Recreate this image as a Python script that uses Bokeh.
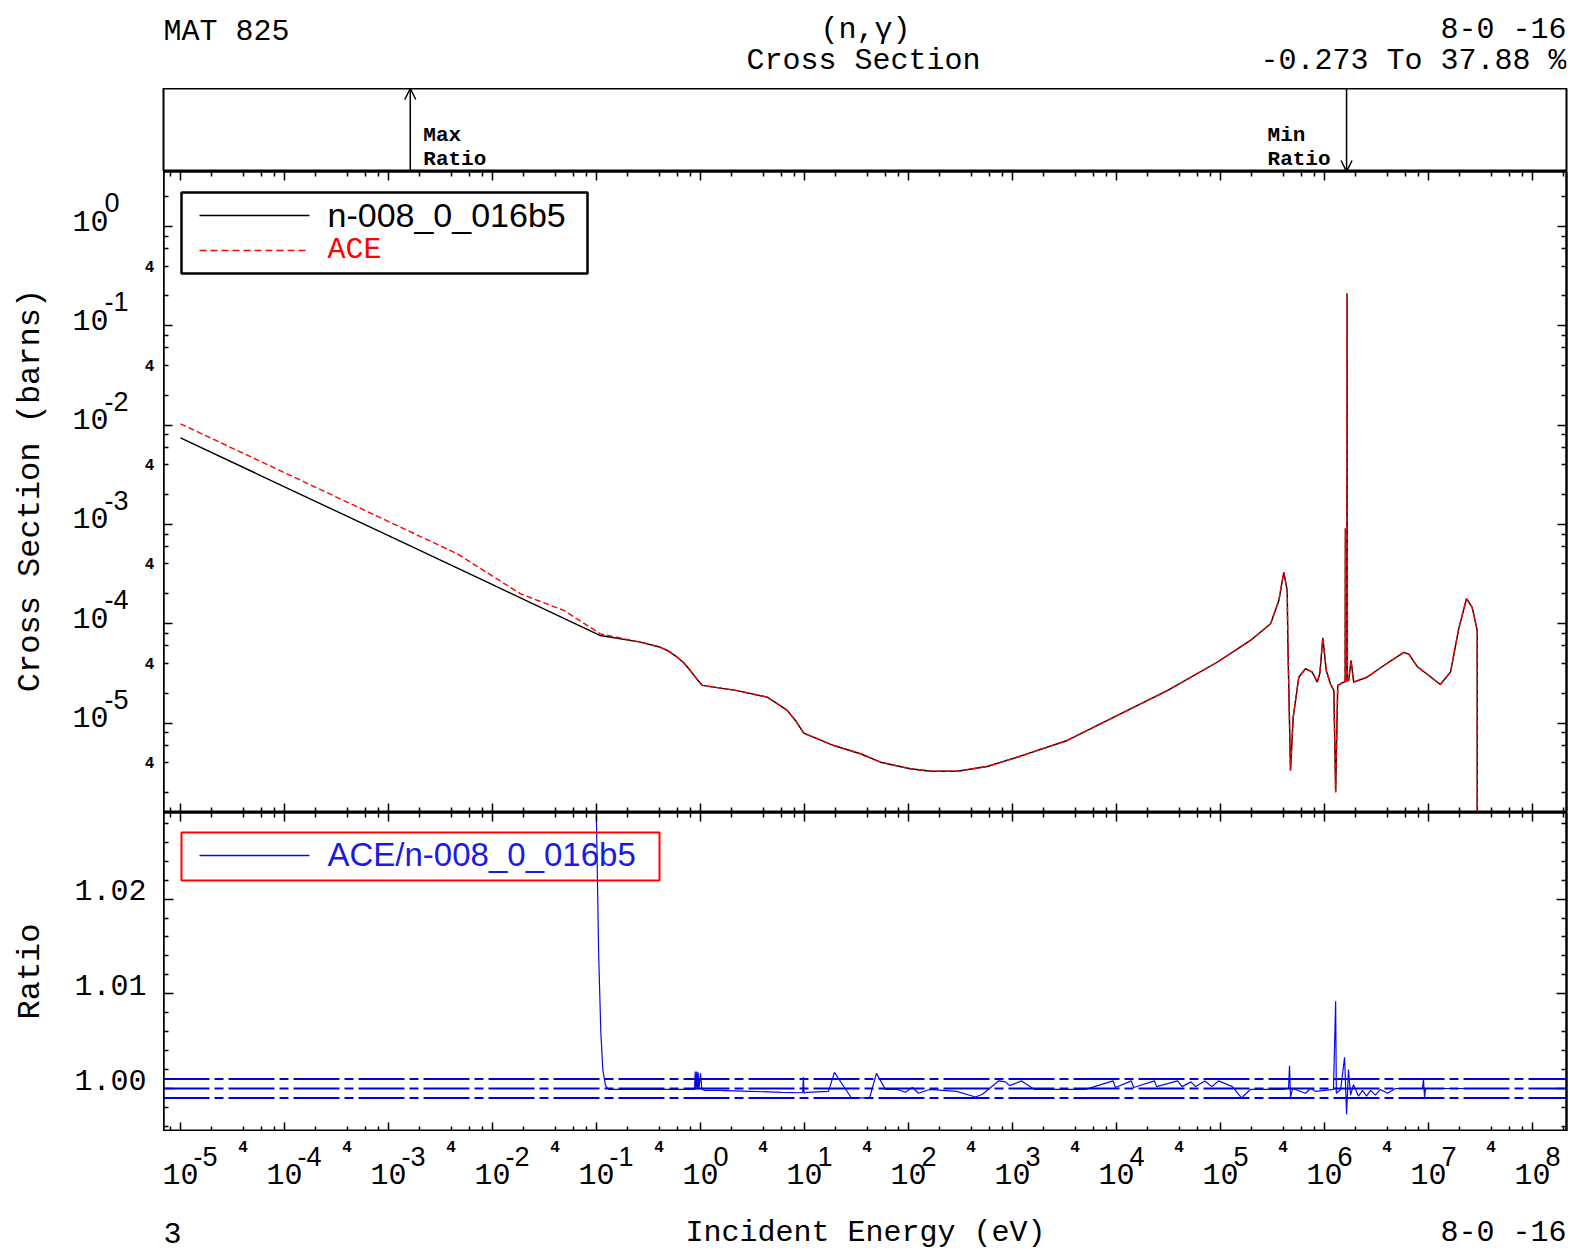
import math
from bokeh.plotting import figure
from bokeh.layouts import column, row
from bokeh.core.properties import value
from bokeh.models import (LogAxis, LinearAxis, FixedTicker, Label, Span, Arrow,
                          OpenHead, BoxAnnotation, Range1d, CustomJSTickFormatter)
from bokeh.embed import file_html
from bokeh.resources import INLINE

# ---------------- data ----------------
# 1/v region (eV, barns)
endf_low_energy = [1e-5, 1e-4, 1e-3, 1e-2, 0.109]
endf_low_xs = [7.45e-3, 2.39e-3, 7.69e-4, 2.47e-4, 7.60e-5]
ace_low_energy = [1e-5, 4.58e-3, 1.86e-2, 4.85e-2, 0.109]
ace_low_xs = [1.03e-2, 5.06e-4, 2.00e-4, 1.36e-4, 7.91e-5]

# region where both evaluations coincide (eV, barns)
common_energy = [0.265, 0.412, 0.492, 0.597, 0.686, 0.773, 0.913, 1.04, 2.25, 4.38,
                 5.46, 6.82, 8.18, 9.84, 19.1,
                 34.5, 53.8, 104, 163, 294, 571, 1190, 3360, 1.02e4, 3.08e4,
                 9.29e4, 1.94e5, 3.03e5, 3.64e5, 4.06e5, 4.38e5, 4.44e5, 4.71e5, 5.00e5, 5.66e5,
                 6.56e5, 7.62e5, 8.51e5, 9.02e5, 9.64e5, 1.04e6, 1.14e6, 1.23e6, 1.28e6, 1.34e6,
                 1.53e6, 1.58e6, 1.59e6, 1.60e6, 1.64e6, 1.65e6, 1.66e6, 1.71e6, 1.80e6, 1.91e6,
                 2.56e6, 3.72e6, 5.79e6, 6.47e6, 7.78e6, 1.30e7, 1.63e7, 1.95e7, 2.32e7, 2.63e7,
                 2.94e7, 2.94e7]
common_xs = [6.52e-5, 5.79e-5, 5.30e-5, 4.60e-5, 4.07e-5, 3.52e-5, 2.81e-5, 2.39e-5, 2.12e-5, 1.82e-5,
             1.57e-5, 1.34e-5, 1.06e-5, 7.89e-6, 5.93e-6,
             4.90e-6, 4.03e-6, 3.46e-6, 3.27e-6, 3.27e-6, 3.65e-6, 4.63e-6, 6.67e-6, 1.19e-5, 2.12e-5,
             4.09e-5, 6.78e-5, 9.98e-5, 1.71e-4, 3.30e-4, 2.16e-4, 6.78e-5, 3.33e-6, 1.14e-5, 2.89e-5,
             3.52e-5, 3.25e-5, 2.58e-5, 3.15e-5, 7.21e-5, 3.38e-5, 2.48e-5, 2.12e-5, 2.01e-6, 2.39e-5,
             2.58e-5, 2.60e-5, 9.10e-4, 2.62e-5, 2.64e-5, 0.211, 2.66e-5, 2.68e-5, 4.26e-5, 2.58e-5,
             2.89e-5, 3.79e-5, 5.15e-5, 4.94e-5, 3.71e-5, 2.44e-5, 3.27e-5, 8.83e-5, 1.79e-4, 1.46e-4,
             8.55e-5, 1.0e-7]

# ratio ACE / n-008_0_016b5
ratio_energy = [1e-5, 1.62e-3, 4.58e-3, 1.86e-2, 4.85e-2, 0.0975, 0.100, 0.105, 0.110, 0.115,
                0.122, 0.130, 0.875, 0.89, 0.905, 0.92, 0.935, 0.95, 0.965, 1.0,
                1.03, 1.1, 1.5, 3.0, 6.0, 9.3, 9.6, 9.75, 9.9, 10.5,
                17.0, 19.4, 28.3, 42.2, 49.2, 60.1, 78.3, 93.5, 109, 125,
                159, 290, 441, 515, 733, 857, 936, 1222, 1630, 5040,
                9270, 9770, 13900, 14600, 23200, 24300, 38600, 42700, 52100, 57500,
                70800, 82400, 95700, 1.30e5, 1.59e5, 1.94e5, 3.94e5, 4.51e5, 4.61e5, 4.71e5,
                4.92e5, 6.56e5, 7.33e5, 8.19e5, 1.22e6, 1.28e6, 1.30e6, 1.43e6, 1.56e6, 1.63e6,
                1.70e6, 1.78e6, 1.90e6, 2.12e6, 2.32e6, 2.53e6, 2.77e6, 3.09e6, 3.45e6, 4.03e6,
                4.82e6, 8.75e6, 8.95e6, 9.16e6, 9.36e6, 2.94e7]
ratio_value = [1.375, 1.3788, 1.370, 1.10, 1.19, 1.040, 1.028, 1.014, 1.006, 1.002,
               1.0003, 0.9999, 0.9999, 1.0018, 0.9999, 1.0018, 1.0000, 1.0017, 0.9999, 1.0016,
               0.9999, 0.9998, 0.9998, 0.9997, 0.99960, 0.99955, 0.99955, 1.0012, 0.9995, 0.9996,
               0.9997, 1.0017, 0.9990, 0.9990, 1.0016, 0.9999, 0.9999, 0.9996, 1.0001, 0.9995,
               0.9999, 0.9997, 0.9991, 0.9994, 1.0008, 1.0007, 1.0003, 1.0008, 0.9999, 0.9999,
               1.0008, 1.0001, 1.0008, 1.0001, 1.0008, 1.0002, 1.0008, 1.0002, 1.0007, 1.0002,
               1.0008, 1.0002, 1.0008, 1.0002, 0.9990, 0.9999, 0.9999, 1.0000, 1.0024, 0.9990,
               1.0000, 0.9995, 1.0000, 0.9997, 0.9999, 1.0092, 0.9995, 0.9999, 1.0033, 0.99727,
               1.0020, 0.9993, 1.0004, 0.9992, 0.9998, 0.9992, 0.9998, 0.9993, 0.9999, 0.9995,
               1.0000, 1.0000, 1.0010, 0.9990, 1.0000, 1.0000]
ratio_ref_lines = [0.999, 1.000, 1.001]

x_decades = [-5, -4, -3, -2, -1, 0, 1, 2, 3, 4, 5, 6, 7, 8]
y_decades = [0, -1, -2, -3, -4, -5]
ratio_major = [1.00, 1.01, 1.02]
ratio_minor = [0.996, 0.998, 1.002, 1.004, 1.006, 1.008, 1.012, 1.014, 1.016, 1.018,
               1.022, 1.024, 1.026, 1.028]

endf_energy = endf_low_energy + common_energy
endf_xs = endf_low_xs + common_xs
ace_energy = ace_low_energy + common_energy
ace_xs = ace_low_xs + common_xs

# ---------------- page geometry (pixels) ----------------
W, H = 1586, 1255
FL, FR = 163, 1566
HEAD_TOP, XS_TOP, XS_BOT, R_BOT = 88, 171, 812, 1131
X_REF_PX, X_DEC_PX = 180.0, 104.0
Y_REF_PX, Y_DEC_PX = 226.0, 99.3
R_REF_PX, R_UNIT_PX = 1088.0, 9470.0


def ex(px):
    return 10 ** (-5 + (px - X_REF_PX) / X_DEC_PX)


def ey(py):
    return 10 ** (-(py - Y_REF_PX) / Y_DEC_PX)


def er(py):
    return 1 + (R_REF_PX - py) / R_UNIT_PX


def eh(py):
    return (XS_TOP - py) / float(XS_TOP - HEAD_TOP)


MONO = "Liberation Mono"
SANS = "Liberation Sans"

x_range = Range1d(ex(FL), ex(FR))
xs_yrange = Range1d(ey(XS_BOT), ey(XS_TOP))
r_yrange = Range1d(er(R_BOT), er(XS_BOT))


def make_fig(w, h, xr, yr, x_type="linear", y_type="linear", bl=0, br=0, outline=True):
    p = figure(width=w, height=h, x_range=xr, y_range=yr, x_axis_type=x_type,
               y_axis_type=y_type, x_axis_location=None, y_axis_location=None,
               output_backend="svg", toolbar_location=None,
               min_border_left=bl, min_border_right=br, min_border_top=0,
               min_border_bottom=0, background_fill_color="white",
               border_fill_color="white")
    p.grid.visible = False
    if outline:
        p.outline_line_color = "black"
        p.outline_line_width = 2
    else:
        p.outline_line_color = None
    return p


def texts(p, xs_, ys_, ss, size, align="center", color="black", font=MONO,
          style="normal", angle=0.0):
    p.text(x=xs_, y=ys_, text=ss, text_font=value(font),
           text_font_size=value("%dpx" % size), text_align=value(align),
           text_baseline=value("middle"), text_color=color,
           text_font_style=value(style), angle=angle)


# strips that only hold texts (pixel coordinates where no data scale applies)
top = make_fig(W, HEAD_TOP, Range1d(FL, FR), Range1d(HEAD_TOP, 0), bl=FL, br=W - FR,
               outline=False)
head = make_fig(W, XS_TOP - HEAD_TOP, x_range, Range1d(0, 1), x_type="log", bl=FL, br=W - FR)
left_xs = make_fig(FL, XS_BOT - XS_TOP, Range1d(0, FL), xs_yrange, y_type="log", outline=False)
xs = make_fig(W - FL, XS_BOT - XS_TOP, x_range, xs_yrange, x_type="log", y_type="log", br=W - FR)
left_r = make_fig(FL, R_BOT - XS_BOT, Range1d(0, FL), r_yrange, outline=False)
rat = make_fig(W - FL, R_BOT - XS_BOT, x_range, r_yrange, x_type="log", br=W - FR)
bottom = make_fig(W, H - R_BOT, x_range, Range1d(H - R_BOT, 0), x_type="log",
                  bl=FL, br=W - FR, outline=False)


def blank_axis(cls, ticker, major_in, minor_in):
    return cls(ticker=ticker, formatter=CustomJSTickFormatter(code="return ''"),
               major_tick_in=major_in, major_tick_out=0,
               minor_tick_in=minor_in, minor_tick_out=0,
               major_label_text_font_size="0px", major_label_standoff=0,
               axis_line_color="black", axis_line_width=2,
               major_tick_line_color="black", major_tick_line_width=1.5,
               minor_tick_line_color="black", minor_tick_line_width=1.5)


x_major = [10.0 ** k for k in x_decades]
x_minor = [m * 10.0 ** k for k in range(-6, 9) for m in (2, 4, 6, 8)]
y_major = [10.0 ** k for k in y_decades]
y_minor = [m * 10.0 ** k for k in range(-7, 1) for m in (2, 4, 6, 8)]

for p in (xs, rat):
    p.add_layout(blank_axis(LogAxis, FixedTicker(ticks=x_major, minor_ticks=x_minor), 9, 5), "above")
    p.add_layout(blank_axis(LogAxis, FixedTicker(ticks=x_major, minor_ticks=x_minor), 9, 5), "below")
for side in ("left", "right"):
    xs.add_layout(blank_axis(LogAxis, FixedTicker(ticks=y_major, minor_ticks=y_minor), 9, 5), side)
    rat.add_layout(blank_axis(LinearAxis, FixedTicker(ticks=ratio_major, minor_ticks=ratio_minor), 10, 5), side)

# ---------------- data glyphs ----------------
xs.line(endf_energy, endf_xs, line_color="black", line_width=1.4)
xs.line(ace_energy, ace_xs, line_color="red", line_width=1.4, line_dash="6 3")

rat.line(ratio_energy, ratio_value, line_color="#0a0ae6", line_width=1.2)
for v in ratio_ref_lines:
    rat.add_layout(Span(location=v, dimension="width", line_color="#0000dd",
                        line_width=2, line_dash="46 5 9 5"))


def lab(p, x, y, s, size, align="center", color="black", font=MONO, style="normal"):
    p.add_layout(Label(x=x, y=y, text=s, text_font=font, text_font_size="%dpx" % size,
                       text_align=align, text_baseline="middle", text_color=color,
                       text_font_style=style))


# ---------------- title strip ----------------
texts(top, [FL], [31], ["MAT 825"], 30, align="left")
texts(top, [865, 863], [29, 60], ["(n,\u03b3)", "Cross Section"], 30)
texts(top, [FR, FR], [29, 60], ["8-0 -16", "-0.273 To 37.88 %"], 30, align="right")

# ---------------- header with max / min ratio arrows ----------------
i_max = max(range(len(ratio_value)), key=lambda i: ratio_value[i])
i_min = min(range(len(ratio_value)), key=lambda i: ratio_value[i])
e_max, e_min = ratio_energy[i_max], ratio_energy[i_min]
head.add_layout(Arrow(end=OpenHead(size=11, line_width=1.5, line_color="black"),
                      x_start=e_max, y_start=0, x_end=e_max, y_end=1,
                      line_color="black", line_width=1.5))
head.add_layout(Arrow(end=OpenHead(size=11, line_width=1.5, line_color="black"),
                      x_start=e_min, y_start=1, x_end=e_min, y_end=0,
                      line_color="black", line_width=1.5))
lab(head, e_max * 10 ** (13 / X_DEC_PX), eh(135), "Max", 21, align="left", style="bold")
lab(head, e_max * 10 ** (13 / X_DEC_PX), eh(159), "Ratio", 21, align="left", style="bold")
lab(head, e_min * 10 ** (-79 / X_DEC_PX), eh(135), "Min", 21, align="left", style="bold")
lab(head, e_min * 10 ** (-79 / X_DEC_PX), eh(159), "Ratio", 21, align="left", style="bold")

# ---------------- cross-section y labels ----------------
y_ticks = [10.0 ** k for k in y_decades]
texts(left_xs, [90] * len(y_ticks), [t * 10 ** (6 / Y_DEC_PX) for t in y_ticks],
      ["10"] * len(y_ticks), 30)
texts(left_xs, [104] * len(y_ticks), [t * 10 ** (24 / Y_DEC_PX) for t in y_ticks],
      [str(k) for k in y_decades], 27, align="left", font=SANS)
texts(left_xs, [149] * len(y_ticks), [0.4 * t for t in y_ticks], ["4"] * len(y_ticks),
      16, style="bold")
texts(left_xs, [30], [ey(490)], ["Cross Section (barns)"], 32, angle=math.pi / 2)

# legend 1
xs.add_layout(BoxAnnotation(left=ex(181), right=ex(587), top=ey(192), bottom=ey(273),
                            fill_alpha=0, line_color="black", line_alpha=1, line_width=2.5))
xs.add_layout(Arrow(end=None, x_start=ex(199), x_end=ex(309), y_start=ey(215), y_end=ey(215),
                    line_color="black", line_width=1.5))
xs.add_layout(Arrow(end=None, x_start=ex(199), x_end=ex(309), y_start=ey(250), y_end=ey(250),
                    line_color="red", line_width=1.5, line_dash="7 4"))
lab(xs, ex(327), ey(214), "n-008_0_016b5", 34, align="left", font=SANS)
lab(xs, ex(327), ey(249), "ACE", 30, align="left", color="red")

# ---------------- ratio y labels ----------------
texts(left_r, [110] * len(ratio_major), [v + 9 / R_UNIT_PX for v in ratio_major],
      ["%.2f" % v for v in ratio_major], 30)
texts(left_r, [30], [er(971)], ["Ratio"], 32, angle=math.pi / 2)

# legend 2
rat.add_layout(BoxAnnotation(left=ex(181), right=ex(659), top=er(832), bottom=er(880),
                             fill_alpha=0, line_color="red", line_alpha=1, line_width=2))
rat.add_layout(Arrow(end=None, x_start=ex(199), x_end=ex(309), y_start=er(855), y_end=er(855),
                     line_color="#0a0ae6", line_width=1.5))
lab(rat, ex(327), er(854), "ACE/n-008_0_016b5", 33, align="left", color="#1a1ae6", font=SANS)

# ---------------- bottom strip: x tick labels and axis title ----------------
x_ticks = [10.0 ** k for k in x_decades]
texts(bottom, x_ticks, [1173 - R_BOT] * len(x_ticks), ["10"] * len(x_ticks), 30)
texts(bottom, [t * 10 ** (13 / X_DEC_PX) for t in x_ticks], [1156 - R_BOT] * len(x_ticks),
      [str(k) for k in x_decades], 27, align="left", font=SANS)
texts(bottom, [4 * t for t in x_ticks[:-1]], [1146 - R_BOT] * (len(x_ticks) - 1),
      ["4"] * (len(x_ticks) - 1), 16, style="bold")
texts(bottom, [ex(865)], [1232 - R_BOT], ["Incident Energy (eV)"], 30)
texts(bottom, [ex(FL)], [1232 - R_BOT], ["3"], 30, align="left")
texts(bottom, [ex(FR)], [1232 - R_BOT], ["8-0 -16"], 30, align="right")

layout = column(top, head, row(left_xs, xs, spacing=0), row(left_r, rat, spacing=0),
                bottom, spacing=0)
open("out.html", "w").write(file_html(layout, INLINE, "plot"))
